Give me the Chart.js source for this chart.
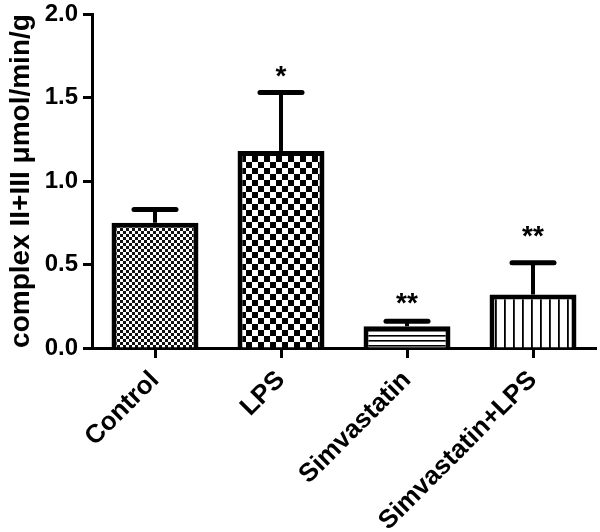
<!DOCTYPE html>
<html>
<head>
<meta charset="utf-8">
<script src="https://cdn.jsdelivr.net/npm/chart.js@4/dist/chart.umd.min.js"></script>
<style>
  html, body { margin: 0; padding: 0; background: #fff; }
  #chart { display: block; }
</style>
</head>
<body>
<canvas id="chart" width="600" height="532"></canvas>
<script>
// values
var categories = ['Control', 'LPS', 'Simvastatin', 'Simvastatin+LPS'];
var means = [0.75, 1.18, 0.13, 0.32];
var errors = [0.08, 0.35, 0.03, 0.19];
var marks = ['', '*', '**', '**'];
var markLevels = [null, 1.64, 0.28, 0.68];
var yTicks = [0, 0.5, 1.0, 1.5, 2.0];

var FONT = "'Liberation Sans', Arial, sans-serif";

function makePattern(kind) {
    var c = document.createElement('canvas');
    var g = c.getContext('2d');
    if (kind === 'fine') {
        c.width = 6; c.height = 6;
        g.fillStyle = '#fff'; g.fillRect(0, 0, 6, 6);
        g.fillStyle = '#111';
        g.fillRect(0, 0, 3, 3); g.fillRect(3, 3, 3, 3);
    } else if (kind === 'coarse') {
        c.width = 12; c.height = 12;
        g.fillStyle = '#fff'; g.fillRect(0, 0, 12, 12);
        g.fillStyle = '#000';
        g.fillRect(0, 0, 6, 6); g.fillRect(6, 6, 6, 6);
    } else if (kind === 'hlines') {
        c.width = 8; c.height = 5;
        g.fillStyle = '#fff'; g.fillRect(0, 0, 8, 5);
        g.fillStyle = '#000'; g.fillRect(0, 0, 8, 1.6);
    } else {
        c.width = 9; c.height = 8;
        g.fillStyle = '#fff'; g.fillRect(0, 0, 9, 8);
        g.fillStyle = '#000'; g.fillRect(0, 0, 1.8, 8);
    }
    return g.createPattern(c, 'repeat');
}

var ctx = document.getElementById('chart').getContext('2d');
var fills = [makePattern('fine'), makePattern('coarse'), makePattern('hlines'), makePattern('vlines')];

var errorBars = {
    id: 'errorBars',
    afterDatasetsDraw: function (chart) {
        var x = chart.scales.x, y = chart.scales.y, c = chart.ctx;
        c.save();
        c.strokeStyle = '#000';
        c.fillStyle = '#000';
        means.forEach(function (m, i) {
            var px = x.getPixelForValue(i);
            var top = y.getPixelForValue(m);
            var cap = y.getPixelForValue(m + errors[i]);
            c.lineWidth = 4;
            c.lineCap = 'butt';
            c.beginPath(); c.moveTo(px, top); c.lineTo(px, cap); c.stroke();
            c.lineWidth = 5;
            c.lineCap = 'round';
            c.beginPath(); c.moveTo(px - 21, cap); c.lineTo(px + 21, cap); c.stroke();
            if (marks[i]) {
                c.font = 'bold 28px ' + FONT;
                c.textAlign = 'center';
                c.textBaseline = 'alphabetic';
                c.fillText(marks[i], px, y.getPixelForValue(markLevels[i]) + 11);
            }
        });
        c.restore();
    }
};

new Chart(ctx, {
    type: 'bar',
    data: {
        labels: categories,
        datasets: [{
            data: means,
            backgroundColor: fills,
            borderColor: '#000',
            borderWidth: 5,
            borderSkipped: 'bottom',
            barPercentage: 0.69,
            categoryPercentage: 1.0,
        }],
    },
    options: {
        responsive: false,
        animation: false,
        events: [],
        devicePixelRatio: 1,
        layout: { padding: { left: 0, right: 4, top: 14, bottom: 0 } },
        plugins: { legend: { display: false }, tooltip: { enabled: false } },
        scales: {
            x: {
                offset: true,
                grid: { display: true, drawOnChartArea: false, offset: false, tickLength: 10, tickWidth: 3, tickColor: '#000' },
                border: { display: true, color: '#000', width: 3 },
                ticks: {
                    color: '#000',
                    font: { family: FONT, size: 26, weight: 'bold' },
                    minRotation: 45, maxRotation: 45, padding: 7,
                },
                afterFit: function (scale) { scale.height = 184; },
            },
            y: {
                min: 0, max: 2.0,
                afterBuildTicks: function (scale) {
                    scale.ticks = yTicks.map(function (v) { return { value: v }; });
                },
                grid: { display: true, drawOnChartArea: false, tickLength: 9, tickWidth: 3, tickColor: '#000' },
                border: { display: true, color: '#000', width: 3 },
                ticks: {
                    color: '#000',
                    font: { family: FONT, size: 24, weight: 'bold' },
                    padding: 5,
                    callback: function (v) { return Number(v).toFixed(1); },
                },
                title: {
                    display: true,
                    text: 'complex II+III \u03bcmol/min/g',
                    color: '#000',
                    font: { family: FONT, size: 28, weight: 'bold', lineHeight: 1.0 },
                    padding: { top: 7, bottom: 0 },
                },
                afterFit: function (scale) {
                    scale.width = 92;
                    scale.paddingTop = 0;
                    scale.paddingBottom = 0;
                },
            },
        },
    },
    plugins: [errorBars],
});
</script>
</body>
</html>
